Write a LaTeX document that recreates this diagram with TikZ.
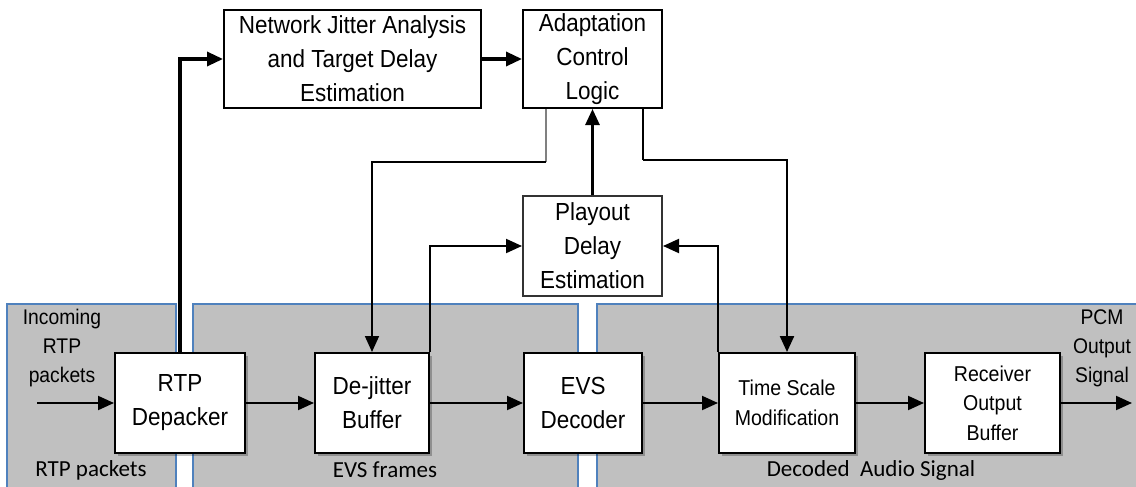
\documentclass[tikz,border=0pt]{standalone}
\usepackage{fontspec}
\setmainfont[FakeStretch=0.91]{Liberation Sans}
\newfontfamily\lblfont{Carlito}
\usetikzlibrary{arrows.meta,shadows}
\definecolor{regfill}{HTML}{C0C0C0}
\definecolor{regline}{HTML}{4F81BD}
\definecolor{gline}{HTML}{808080}
\tikzset{
  blk/.style={draw=black, line width=2pt, fill=white, align=center, inner sep=0pt,
    font={\fontsize{24.7}{34}\selectfont}},
  shad/.style={drop shadow={shadow xshift=2.5pt, shadow yshift=-2.5pt, fill=black, opacity=0.25}},
  blksmall/.style={blk, font={\fontsize{21.5}{29.5}\selectfont}},
  conn/.style={line width=2pt, -{Triangle[length=16pt,width=14pt]}},
  thickconn/.style={conn, line width=3.3pt},
  plain/.style={line width=2.3pt},
  gconn/.style={draw=gline, line width=1.7pt},
  region/.style={fill=regfill},
  regborder/.style={draw=regline, line width=1.7pt},
  lbl/.style={font={\lblfont\fontsize{23}{28}\selectfont}, inner sep=0pt},
  side/.style={align=center, inner sep=0pt, font={\fontsize{21.2}{29}\selectfont}}
}
\begin{document}
\begin{tikzpicture}[x=1pt,y=-1pt]
\useasboundingbox (0,0) rectangle (1136,487);
% regions
\fill[region] (7,304) rectangle (176,487);
\fill[region] (193,304) rectangle (578,487);
\fill[region] (597,304) rectangle (1136,487);
\draw[regborder] (7,487) -- (7,304) -- (176,304) -- (176,487);
\draw[regborder] (193,487) -- (193,304) -- (578,304) -- (578,487);
\draw[regborder] (597,487) -- (597,304) -- (1136,304);
% region labels
\node[lbl] (l1) at (91,470) {RTP packets};
\node[lbl] (l2) at (385,470) {EVS frames};
\node[lbl] (l3) at (871,470) {Decoded\ \ Audio Signal};
\node[side] (inlbl) at (62,348) {Incoming\\RTP\\packets};
\node[side] (outlbl) at (1102,348) {PCM\\Output\\Signal};
% blocks
\node[blk, shad, minimum width=130pt, minimum height=100pt] (rtp) at (180,403) {RTP\\Depacker};
\node[blk, shad, minimum width=114pt, minimum height=100pt] (dj) at (372,403) {De-jitter\\Buffer};
\node[blk, shad, minimum width=118pt, minimum height=100pt] (evs) at (583,403) {EVS\\Decoder};
\node[blksmall, shad, minimum width=136pt, minimum height=100pt] (tsm) at (787,403) {Time Scale\\Modification};
\node[blksmall, shad, minimum width=135pt, minimum height=100pt] (rob) at (992.5,403) {Receiver\\Output\\Buffer};
\node[blk, minimum width=257pt, minimum height=98pt] (nja) at (352.5,59) {Network Jitter Analysis\\and Target Delay\\Estimation};
\node[blk, minimum width=139pt, minimum height=98pt] (acl) at (592.5,59) {Adaptation\\Control\\Logic};
\node[blk, draw=black!80, minimum width=139pt, minimum height=100pt] (pde) at (592.5,246) {Playout\\Delay\\Estimation};
% coordinates
\coordinate (in) at (37,403);
\coordinate (out) at (1132,403);
\coordinate (g1) at (546,162);
\coordinate (g2) at (643,160);
% connectors
\draw[conn] (in) -- (rtp);
\draw[conn] (rtp) -- (dj);
\draw[conn] (dj) -- (evs);
\draw[conn] (evs) -- (tsm);
\draw[conn] (tsm) -- (rob);
\draw[conn] (rob) -- (out);
\draw[thickconn] (rtp.north) |- (nja.west);
\draw[thickconn] (nja) -- (acl);
\draw[conn, line width=2.7pt] (pde.north) -- (acl.south);
\draw[gconn] (acl.south west -| g1) -- (g1);
\draw[conn, line width=1.7pt] (g1) -| (dj.north);
\draw[plain] (acl.south west -| g2) -- (g2);
\draw[conn, line width=2.3pt] (g2) -| (tsm.north);
\draw[conn] (dj.north east) |- (pde.west);
\draw[conn] (tsm.north west) |- (pde.east);
\end{tikzpicture}
\end{document}
